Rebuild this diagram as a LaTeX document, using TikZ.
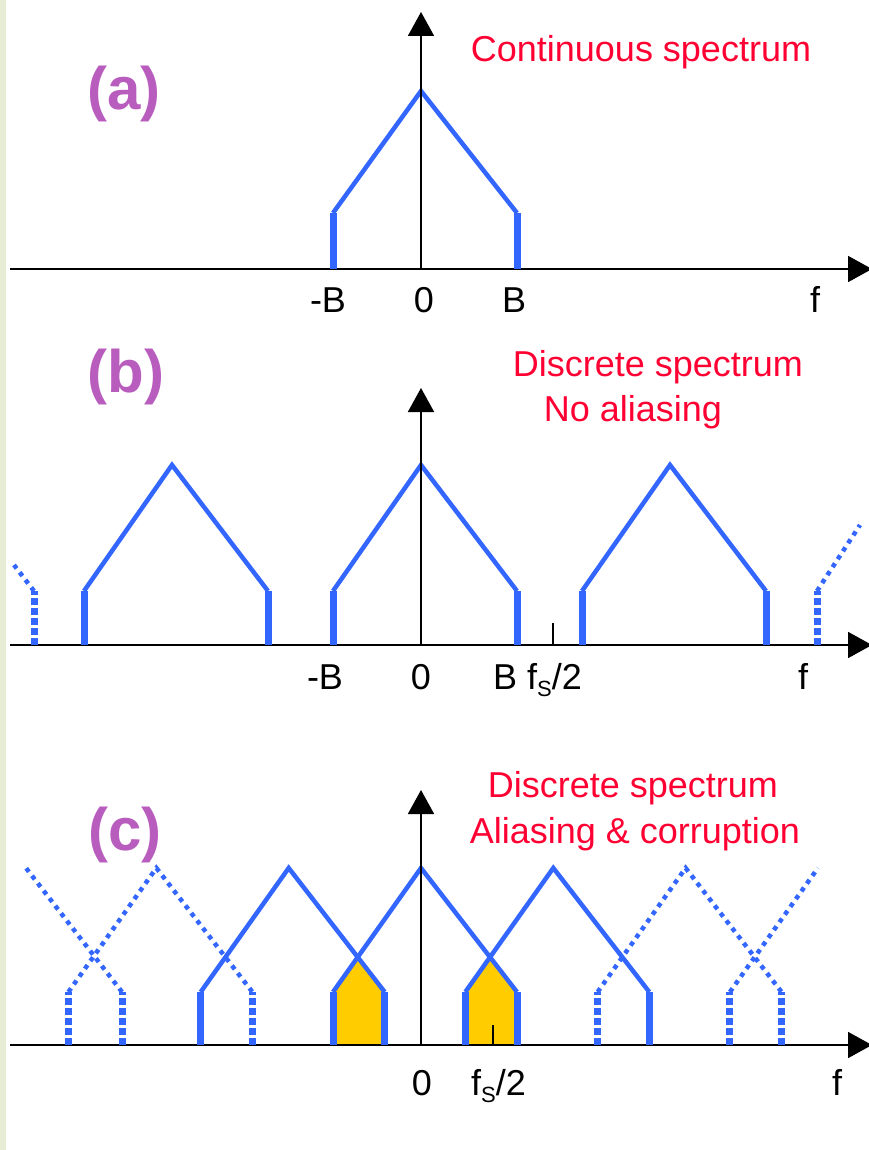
\documentclass[tikz,border=0pt]{standalone}
\usepackage{fontspec}
\setmainfont{Liberation Sans}
\usetikzlibrary{arrows.meta}
\definecolor{sblue}{HTML}{3366FF}
\definecolor{sred}{HTML}{FF0033}
\definecolor{spurple}{HTML}{B85CBE}
\definecolor{syellow}{HTML}{FFCC00}
\definecolor{sstrip}{HTML}{E7ECD5}
\newcommand\fsub{f\raisebox{-7pt}{\fontsize{22}{22}\selectfont S}/2}
% solid triangle: center, axis y, shoulder y, peak y
\newcommand\solidtri[4]{%
  \draw[bedge] (#1-88,#2) -- (#1-88,#3);
  \draw[bedge] (#1+96,#2) -- (#1+96,#3);
  \draw[bslant] (#1-88,#3) -- (#1,#4) -- (#1+96,#3);}
\newcommand\dottri[4]{%
  \draw[dedge] (#1-88,#2) -- (#1-88,#3);
  \draw[dedge] (#1+96,#2) -- (#1+96,#3);
  \draw[dslant] (#1-88,#3) -- (#1,#4) -- (#1+96,#3);}
\begin{document}
\begin{tikzpicture}[x=1pt,y=-1pt,
  axisline/.style={line width=1.8pt,black},
  axisarrow/.style={axisline,-{Triangle[length=24pt,width=26pt]}},
  bslant/.style={sblue,line width=4.5pt,line join=miter},
  bedge/.style={sblue,line width=7pt},
  dslant/.style={sblue,line width=4.5pt,dash pattern=on 4.5pt off 5pt},
  dedge/.style={sblue,line width=7pt,dash pattern=on 7pt off 3pt},
  lbl/.style={font=\fontsize{36}{40}\selectfont,anchor=base,inner sep=0pt},
  redtext/.style={font=\fontsize{36}{40}\selectfont,text=sred,anchor=base,inner sep=0pt},
  plabel/.style={font=\fontsize{60}{64}\selectfont\bfseries,text=spurple,inner sep=0pt}]
\useasboundingbox (0,0) rectangle (869,1150);
\fill[white] (0,0) rectangle (869,1150);
\fill[sstrip] (0,0) rectangle (6,1150);

% ---------- yellow aliasing regions (c)
\fill[syellow] (333,1045) -- (333,992) -- (357.7,957.2) -- (384.7,992) -- (384.7,1045) -- cycle;
\fill[syellow] (465.3,1045) -- (465.3,992) -- (490.0,957.2) -- (517,992) -- (517,1045) -- cycle;

% ---------- horizontal axes
\draw[axisarrow] (10,269) -- (872,269);
\draw[axisarrow] (10,645) -- (872,645);
\draw[axisarrow] (10,1045) -- (872,1045);

% ---------- panel (a)
\solidtri{421}{269}{213}{91}

% ---------- panel (b)
\solidtri{172}{645}{591}{465}
\solidtri{421}{645}{591}{465}
\solidtri{670}{645}{591}{465}
\draw[dedge] (34,645) -- (34,591);
\draw[dslant] (34,591) -- (14,565);
\draw[dedge] (817,645) -- (817,591);
\draw[dslant] (817,591) -- (860,525);

% ---------- panel (c)
\draw[dedge] (122,1045) -- (122,992);
\draw[dslant] (122,992) -- (26,868);
\dottri{156.4}{1045}{992}{868}
\solidtri{288.7}{1045}{992}{868}
\solidtri{421}{1045}{992}{868}
\solidtri{553.3}{1045}{992}{868}
\dottri{685.6}{1045}{992}{868}
\draw[dedge] (729.9,1045) -- (729.9,992);
\draw[dslant] (729.9,992) -- (817.9,868);

% ---------- vertical axes and ticks
\draw[axisarrow] (421,269) -- (421,12);
\draw[axisarrow] (421,645) -- (421,388);
\draw[axisarrow] (421,1045) -- (421,790);
\draw[axisline] (553,645) -- (553,623);
\draw[axisline] (493,1045) -- (493,1025);

% ---------- axis labels
\node[lbl] (am) at (328,312) {-B};
\node[lbl] (a0) at (424,312) {0};
\node[lbl] (ab) at (514,312) {B};
\node[lbl] (af) at (815,312) {f};
\node[lbl] (bm) at (325,689) {-B};
\node[lbl] (b0) at (421,689) {0};
\node[lbl,anchor=base west] (bb) at (493,689) {B \fsub};
\node[lbl] (bf) at (803,689) {f};
\node[lbl] (c0) at (422,1095) {0};
\node[lbl,anchor=base west] (cs) at (471,1095) {\fsub};
\node[lbl] (cf) at (837,1095) {f};

% ---------- titles
\node[redtext] (ta) at (641,62) {Continuous spectrum};
\node[redtext] (tb1) at (658,376) {Discrete spectrum};
\node[redtext] (tb2) at (633,421) {No aliasing};
\node[redtext] (tc1) at (633,797) {Discrete spectrum};
\node[redtext] (tc2) at (635,843) {Aliasing \& corruption};

\node[plabel] (pa) at (124,94) {(a)};
\node[plabel] (pb) at (126,377) {(b)};
\node[plabel] (pc) at (125,835) {(c)};
\end{tikzpicture}
\end{document}
